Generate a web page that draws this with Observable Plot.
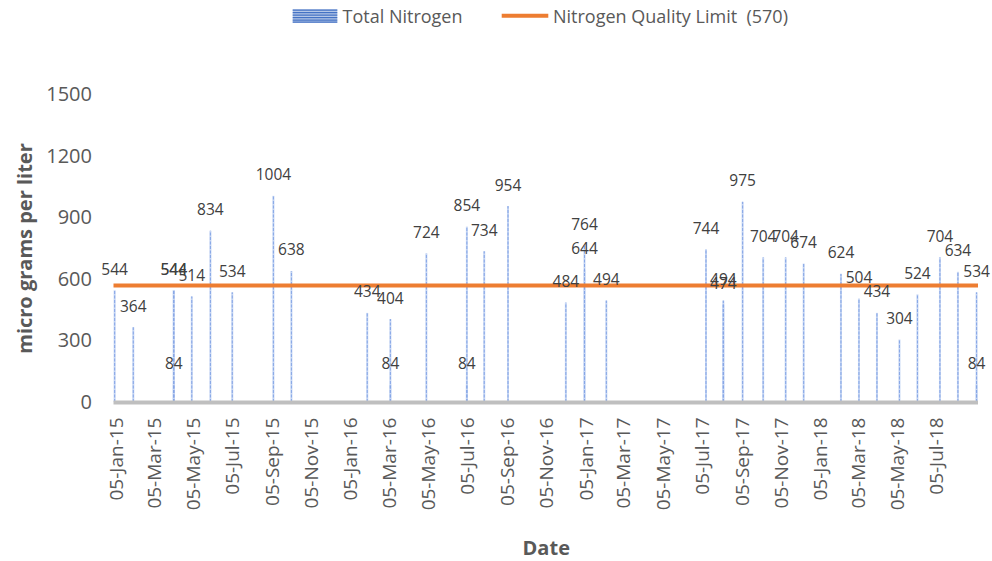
<!DOCTYPE html>
<html><head><meta charset="utf-8">
<script src="https://cdn.jsdelivr.net/npm/d3@7"></script>
<script src="https://cdn.jsdelivr.net/npm/@observablehq/plot@0.6"></script>
<style>
body{margin:0;background:#fff;font-family:"Open Sans",sans-serif;}
#wrap{position:relative;width:992px;height:561px;overflow:hidden;}
#chart{position:absolute;left:0;top:0;}
#legend{position:absolute;left:0;top:0;width:992px;height:32px;color:#595959;font-size:18px;z-index:2;}
#legend span{position:absolute;top:0;line-height:32px;white-space:pre;}
#legend svg{position:absolute;left:0;top:0;}
</style></head><body>
<div id="wrap">
<div id="chart"></div>
<div id="legend">
<svg width="992" height="32">
<rect x="292.7" y="9.3" width="44.6" height="13.4" fill="#b4c7e7"/>
<g stroke="#4472c4" stroke-width="1.3">
<line x1="292.7" x2="337.3" y1="10.2" y2="10.2"/>
<line x1="292.7" x2="337.3" y1="12.7" y2="12.7"/>
<line x1="292.7" x2="337.3" y1="15.2" y2="15.2"/>
<line x1="292.7" x2="337.3" y1="17.7" y2="17.7"/>
<line x1="292.7" x2="337.3" y1="20.2" y2="20.2"/>
<line x1="292.7" x2="337.3" y1="22.2" y2="22.2"/>
</g>
<line x1="501.7" x2="548.3" y1="15.7" y2="15.7" stroke="#ed7d31" stroke-width="4"/>
</svg>
<span id="lg1" style="left:342.5px"></span>
<span id="lg2" style="left:553px"></span>
</div>
</div>
<script>
const seriesName = "Total Nitrogen";
const limitName = "Nitrogen Quality Limit  (570)";
const limitValue = 570;
const sampleDates = ["2015-01-02","2015-01-31","2015-04-04","2015-04-04","2015-04-04","2015-05-02","2015-05-31","2015-07-04","2015-09-06","2015-10-04","2016-01-30","2016-03-06","2016-03-06","2016-05-01","2016-07-03","2016-07-03","2016-07-30","2016-09-05","2016-12-04","2017-01-02","2017-01-02","2017-02-05","2017-07-10","2017-08-06","2017-08-06","2017-09-05","2017-10-07","2017-11-11","2017-12-09","2018-02-05","2018-03-05","2018-04-02","2018-05-07","2018-06-04","2018-07-09","2018-08-06","2018-09-04","2018-09-04"];
const nitrogenValues = [544,364,544,544,84,514,834,534,1004,638,434,404,84,724,854,84,734,954,484,764,644,494,744,494,474,975,704,704,674,624,504,434,304,524,704,634,534,84];
const xTickDates = ["2015-01-05","2015-03-05","2015-05-05","2015-07-05","2015-09-05","2015-11-05","2016-01-05","2016-03-05","2016-05-05","2016-07-05","2016-09-05","2016-11-05","2017-01-05","2017-03-05","2017-05-05","2017-07-05","2017-09-05","2017-11-05","2018-01-05","2018-03-05","2018-05-05","2018-07-05"];
const yTicks = [0,300,600,900,1200,1500];
const xTitle = "Date";
const yTitle = "micro grams per liter";

document.getElementById("lg1").textContent = seriesName;
document.getElementById("lg2").textContent = limitName;

const data = sampleDates.map((d,i)=>({date:new Date(d+"T00:00:00Z"), value:nitrogenValues[i]}));
const ticks = xTickDates.map(d=>new Date(d+"T00:00:00Z"));
const fmt = d3.utcFormat("%d-%b-%y");
const grey = "#595959";

const chart = Plot.plot({
  width: 992, height: 561,
  marginLeft: 113.5, marginRight: 14, marginTop: 94, marginBottom: 159,
  style: {fontFamily: "'Open Sans', sans-serif", background: "transparent", overflow: "visible"},
  x: {type: "utc", domain: [new Date("2015-01-01T00:00:00Z"), new Date("2018-09-07T00:00:00Z")], axis: null},
  y: {domain: [0,1500], axis: null},
  marks: [
    Plot.ruleX(data, {x:"date", y1:0, y2:"value", stroke:"#c5d5f3", strokeWidth:2}),
    Plot.ruleX(data, {x:"date", y1:0, y2:"value", stroke:"#86a6e6", strokeWidth:1, strokeDasharray:"3,1.5"}),
    Plot.ruleY([0], {stroke:"#bfbfbf", strokeWidth:4}),
    Plot.ruleY([limitValue], {stroke:"#ed7d31", strokeWidth:4}),
    Plot.text(yTicks, {y:d=>d, text:d=>String(d), frameAnchor:"left", textAnchor:"end", lineAnchor:"middle", dx:-22, fontSize:20, fill:grey}),
    Plot.text(ticks, {x:d=>d, text:d=>fmt(d), frameAnchor:"bottom", rotate:-90, textAnchor:"end", lineAnchor:"middle", dy:15, fontSize:19, fill:grey}),
    Plot.text(data, {x:"date", y:"value", text:d=>String(d.value), dy:-21, fontSize:15.5, fill:"#404040", lineAnchor:"middle"}),
    Plot.text([yTitle], {frameAnchor:"left", rotate:-90, dx:-88.5, textAnchor:"middle", fontWeight:"bold", fontSize:20, fill:grey, lineAnchor:"middle"}),
    Plot.text([xTitle], {frameAnchor:"bottom", dy:146, textAnchor:"middle", fontWeight:"bold", fontSize:20, fill:grey, lineAnchor:"middle"})
  ]
});
document.getElementById("chart").appendChild(chart);
</script>
</body></html>
